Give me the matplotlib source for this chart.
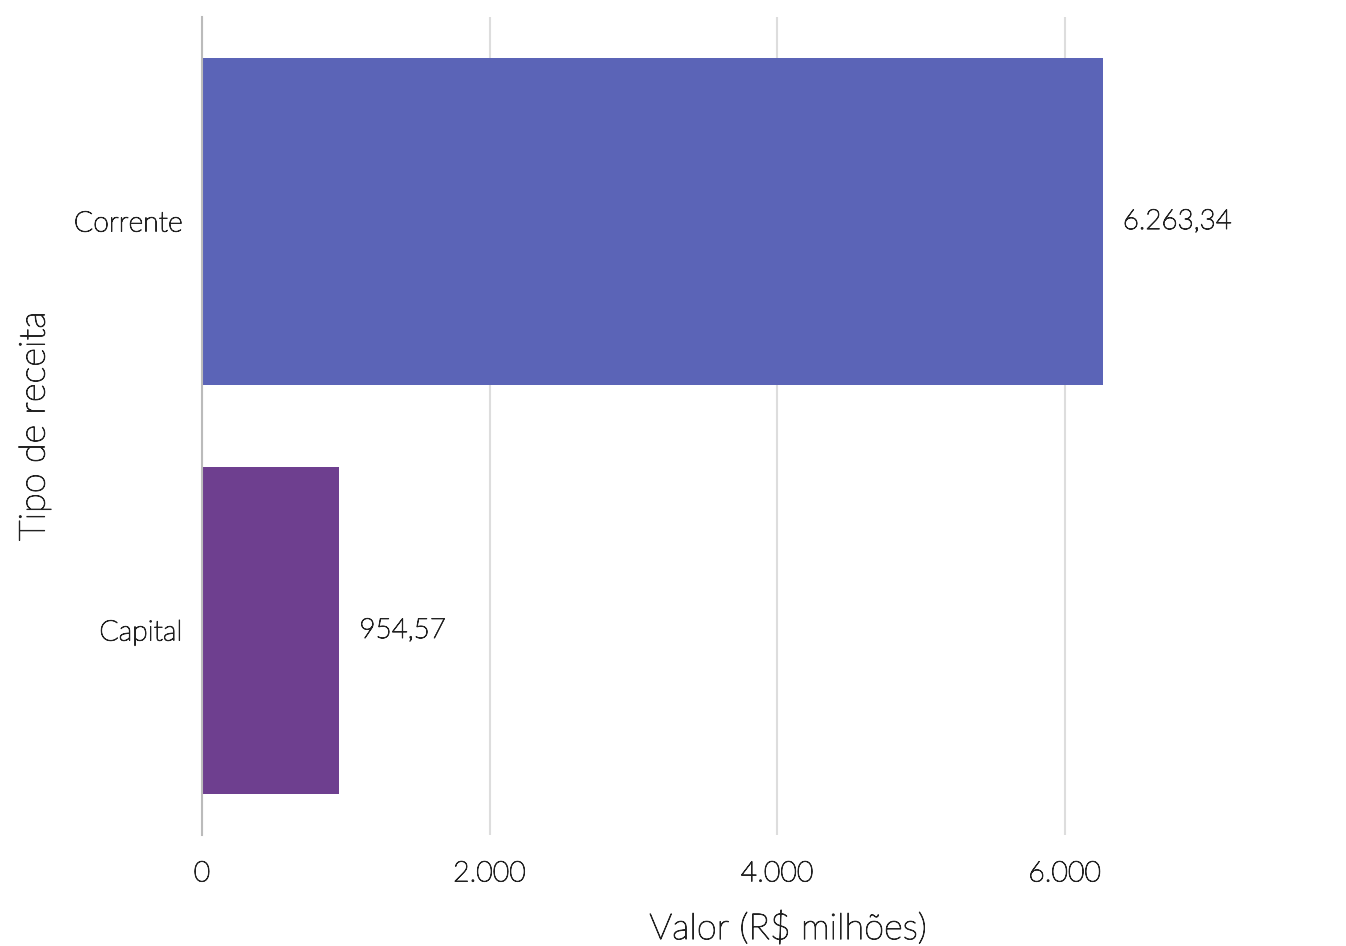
import matplotlib.pyplot as plt
import matplotlib.patheffects as pe

plt.rcParams['font.family'] = ['Lato', 'DejaVu Sans']
plt.rcParams['font.weight'] = 'light'

# Data
categories = ['Capital', 'Corrente']
values = [954.57, 6263.34]
colors = ['#6E3F8F', '#5B64B7']
labels = ['954,57', '6.263,34']
xticks = [0, 2000, 4000, 6000]
xticklabels = ['0', '2.000', '4.000', '6.000']

txt = '#222222'
# the light face is thin here, thicken it a little
thick = [pe.withStroke(linewidth=0.7, foreground=txt)]

fig = plt.figure(figsize=(13.46, 9.46), dpi=100)
ax = fig.add_axes([202 / 1346, 1 - 835 / 946, (1338 - 202) / 1346, (835 - 17) / 946])

ax.barh(categories, values, height=0.8, color=colors, zorder=2)
for i, (v, lab) in enumerate(zip(values, labels)):
    ax.text(v + 140, i, lab, va='center', ha='left', fontsize=20,
            color=txt, path_effects=thick)

ax.set_xlim(0, 7900)
ax.set_ylim(-0.5, 1.5)
ax.set_xticks(xticks)
ax.set_xticklabels(xticklabels)
ax.grid(axis='x', color='#dddddd', linewidth=1.5, zorder=0)
for s in ['top', 'right', 'bottom']:
    ax.spines[s].set_visible(False)
ax.spines['left'].set_color('#bbbbbb')
ax.spines['left'].set_linewidth(1.5)
ax.spines['left'].set_zorder(3)
ax.tick_params(length=0, labelsize=20.5, labelcolor=txt)
ax.tick_params(axis='y', pad=14)
ax.tick_params(axis='x', pad=19)
for t in ax.get_xticklabels() + ax.get_yticklabels():
    t.set_path_effects(thick)

ax.set_xlabel('Valor (R$ milhões)', fontsize=26, color=txt, fontweight='light',
              labelpad=19, path_effects=thick)
ax.xaxis.label.set_x(0.516)
ax.set_ylabel('Tipo de receita', fontsize=26, color=txt, fontweight='light',
              labelpad=16, path_effects=thick)

plt.savefig('out.png', dpi=100)
